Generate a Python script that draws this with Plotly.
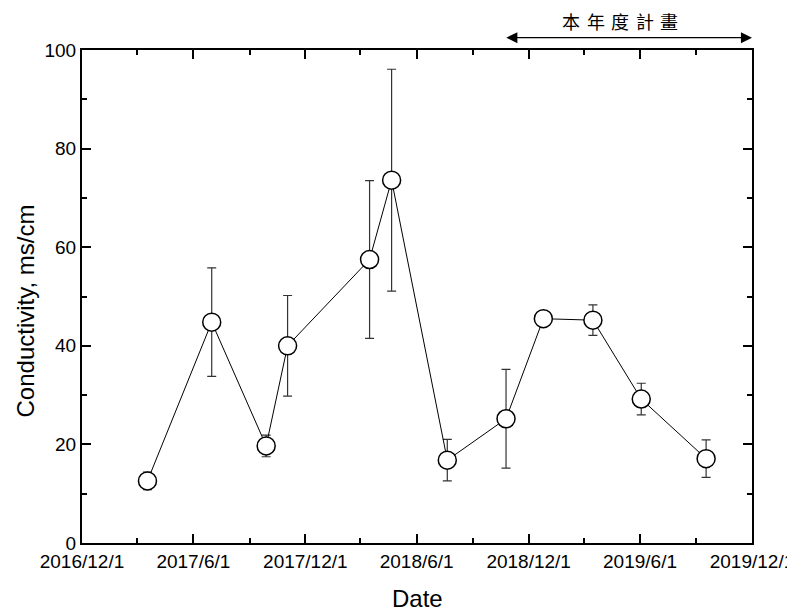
import plotly.graph_objects as go

# ---- data ----
dates = ["2017-03-18", "2017-07-01", "2017-09-28", "2017-11-02", "2018-03-16",
         "2018-04-21", "2018-07-21", "2018-10-25", "2018-12-25", "2019-03-16",
         "2019-06-03", "2019-09-17"]
conductivity = [12.6, 44.8, 19.7, 40.0, 57.5, 73.6, 16.8, 25.2, 45.5, 45.2, 29.2, 17.1]
errors = [1.8, 11.0, 2.2, 10.2, 16.0, 22.5, 4.2, 10.0, 1.1, 3.1, 3.2, 3.8]

x_tick_vals = ["2016-12-01", "2017-06-01", "2017-12-01", "2018-06-01",
               "2018-12-01", "2019-06-01", "2019-12-01"]
x_tick_text = ["2016/12/1", "2017/6/1", "2017/12/1", "2018/6/1",
               "2018/12/1", "2019/6/1", "2019/12/1"]
x_minor_vals = ["2017-03-01", "2017-09-01", "2018-03-01", "2018-09-01",
                "2019-03-01", "2019-09-01"]
y_tick_vals = [0, 20, 40, 60, 80, 100]

plan_label = "本年度計畫"
plan_start = "2018-10-23"
plan_end = "2019-12-01"

# page body adds an 8px margin; lay out in reference pixels minus that offset
OFF = 8
W, H = 795 - OFF, 614 - OFF
ML = 81.7 - OFF
MT = 50 - OFF
PLOT_RIGHT = 751.7 - OFF
PLOT_BOTTOM = 542.7 - OFF
MR = W - PLOT_RIGHT
MB = H - PLOT_BOTTOM
PW = W - ML - MR
PH = H - MT - MB

def px_to_paper_x(px):
    return (px - OFF - ML) / PW

def px_to_paper_y(py):
    return (H - MB - (py - OFF)) / PH

fig = go.Figure()
fig.add_trace(go.Scatter(
    x=dates, y=conductivity,
    mode="lines+markers",
    line=dict(color="black", width=1),
    marker=dict(symbol="circle", size=18, color="white",
                line=dict(color="black", width=1.5)),
    error_y=dict(type="data", array=errors, visible=True,
                 color="#333333", thickness=1.2, width=4.5),
    showlegend=False,
))

axis_font = dict(family="Liberation Sans, Arial, sans-serif", size=19, color="black")

fig.update_layout(
    width=W, height=H,
    margin=dict(l=ML, r=MR, t=MT, b=MB, pad=0, autoexpand=False),
    paper_bgcolor="white", plot_bgcolor="white",
    xaxis=dict(
        type="date", automargin=False, ticklabeloverflow="allow",
        range=["2016-12-01", "2019-12-01"],
        tickmode="array", tickvals=x_tick_vals, ticktext=x_tick_text,
        ticks="inside", ticklen=9, tickwidth=1.6, tickcolor="black",
        showline=True, linecolor="black", linewidth=2, mirror="ticks",
        showgrid=False, zeroline=False,
        tickfont=axis_font,
        minor=dict(tickvals=x_minor_vals, ticks="inside", ticklen=5,
                   tickwidth=1.6, tickcolor="black", showgrid=False),
    ),
    yaxis=dict(
        range=[0, 100], automargin=False,
        tickmode="array", tickvals=y_tick_vals,
        ticks="inside", ticklen=9, tickwidth=1.6, tickcolor="black",
        showline=True, linecolor="black", linewidth=2, mirror="ticks",
        showgrid=False, zeroline=False,
        tickfont=axis_font,
        minor=dict(dtick=10, ticks="inside", ticklen=5,
                   tickwidth=1.6, tickcolor="black", showgrid=False),
    ),
)

title_font = dict(family="Liberation Sans, Arial, sans-serif", size=24, color="black")
fig.add_annotation(text="Date", xref="paper", yref="paper",
                   x=0.5, y=px_to_paper_y(598.5), xanchor="center", yanchor="middle",
                   showarrow=False, font=title_font)
fig.add_annotation(text="Conductivity, ms/cm", xref="paper", yref="paper",
                   x=px_to_paper_x(25), y=px_to_paper_y(311), textangle=-90,
                   xanchor="center", yanchor="middle",
                   showarrow=False, font=title_font)

# double-headed arrow for the plan period
fig.add_annotation(x=plan_end, y=px_to_paper_y(37.7), ax=plan_start, ay=0,
                   xref="x", yref="paper", axref="x", ayref="pixel",
                   text="", showarrow=True, arrowhead=2, arrowside="end+start",
                   arrowsize=1.7, arrowwidth=1.3, arrowcolor="black",
                   standoff=0, startstandoff=0)

# spaced CJK label
char_px = [570.5, 595.5, 620, 644.3, 668.8]
for ch, cx in zip(plan_label, char_px):
    fig.add_annotation(text=ch, xref="paper", yref="paper",
                       x=px_to_paper_x(cx), y=px_to_paper_y(21.5),
                       xanchor="center", yanchor="middle", showarrow=False,
                       font=dict(family="Noto Sans CJK TC", size=18, color="black"))

fig.write_html("out.html")
